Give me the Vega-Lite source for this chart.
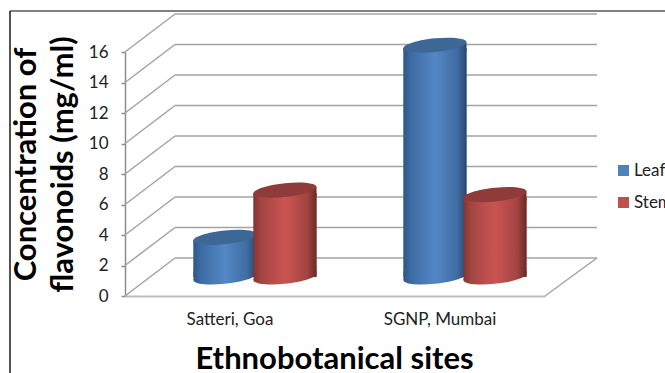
{
  "$schema": "https://vega.github.io/schema/vega-lite/v6.json",
  "width": 420,
  "height": 244,
  "autosize": "none",
  "padding": {"left": 125, "top": 52, "right": 120, "bottom": 77},
  "background": "white",
  "config": {"view": {"stroke": null}},
  "datasets": {
    "levels": [{"level": 0}, {"level": 2}, {"level": 4}, {"level": 6}, {"level": 8}, {"level": 10}, {"level": 12}, {"level": 14}, {"level": 16}],
    "flavonoids": [
      {"site": "Satteri, Goa", "part": "Leaf", "value": 2.6},
      {"site": "Satteri, Goa", "part": "Stem", "value": 5.7},
      {"site": "SGNP, Mumbai", "part": "Leaf", "value": 15.2},
      {"site": "SGNP, Mumbai", "part": "Stem", "value": 5.4}
    ]
  },
  "layer": [
    {
      "description": "Chart frame, left and top edges",
      "data": {"name": "levels"},
      "transform": [{"filter": "datum.level === 16"}],
      "layer": [
        {
          "mark": {"type": "rule", "color": "#808080", "strokeWidth": 2, "yOffset": -41, "y2Offset": -41, "xOffset": -115, "x2Offset": 435, "clip": false},
          "encoding": {
            "x": {
              "datum": "Satteri, Goa",
              "bandPosition": 0,
              "scale": {"domain": ["Satteri, Goa", "SGNP, Mumbai"], "paddingInner": 0, "paddingOuter": 0},
              "axis": {
                "title": "Ethnobotanical sites",
                "titleFont": "Lato",
                "titleFontWeight": "bold",
                "titleFontSize": 31,
                "titleColor": "#000000",
                "titleX": 209,
                "titleY": 72,
                "titleBaseline": "alphabetic",
                "labelFont": "Lato",
                "labelFontSize": 17,
                "labelColor": "#222222",
                "labelAngle": 0,
                "labelAlign": "center",
                "labelBaseline": "top",
                "labelPadding": 15,
                "ticks": false,
                "domainColor": "#BDBDBD",
                "domainWidth": 2
              }
            },
            "x2": {"datum": "Satteri, Goa"},
            "y": {
              "field": "level",
              "type": "quantitative",
              "scale": {"domain": [0, 16]},
              "axis": {
                "values": [0, 2, 4, 6, 8, 10, 12, 14, 16],
                "tickCount": 9,
                "grid": false,
                "labelOverlap": false,
                "title": ["Concentration of", "flavonoids (mg/ml)"],
                "titleFont": "Lato",
                "titleFontWeight": "bold",
                "titleFontSize": 31,
                "titleColor": "#000000",
                "titleAngle": -90,
                "titleX": -90,
                "titleY": 112,
                "titleAlign": "center",
                "titleBaseline": "alphabetic",
                "titleLineHeight": 37,
                "labelFont": "Lato",
                "labelFontSize": 17,
                "labelColor": "#222222",
                "labelPadding": 13,
                "tickSize": 4,
                "tickColor": "#8C8C8C",
                "tickWidth": 1.5,
                "domainColor": "#8C8C8C",
                "domainWidth": 1.5
              }
            },
            "y2": {"field": "level"}
          }
        },
        {
          "mark": {"type": "rule", "color": "#1a1a1a", "strokeWidth": 1.5, "xOffset": -115, "x2Offset": -220, "yOffset": -41, "y2Offset": 321},
          "encoding": {
            "x": {"datum": "Satteri, Goa", "bandPosition": 0},
            "x2": {"datum": "Satteri, Goa"},
            "y": {"field": "level", "type": "quantitative"},
            "y2": {"field": "level"}
          }
        }
      ]
    },
    {
      "description": "Side wall and back wall gridlines in oblique projection",
      "data": {"name": "levels"},
      "layer": [
        {
          "mark": {"type": "rule", "color": "#A3A3A3", "strokeWidth": 1.5, "x2Offset": -55, "y2Offset": -38},
          "encoding": {
            "x": {"datum": "Satteri, Goa", "bandPosition": 0},
            "x2": {"datum": "Satteri, Goa"},
            "y": {"field": "level", "type": "quantitative"},
            "y2": {"field": "level"}
          }
        },
        {
          "mark": {"type": "rule", "color": "#A3A3A3", "strokeWidth": 1.5, "xOffset": 50, "x2Offset": 367, "yOffset": -38, "y2Offset": -38},
          "encoding": {
            "x": {"datum": "Satteri, Goa", "bandPosition": 0},
            "x2": {"datum": "Satteri, Goa"},
            "y": {"field": "level", "type": "quantitative"},
            "y2": {"field": "level"}
          }
        },
        {
          "description": "Floor edge on the right",
          "transform": [{"filter": "datum.level === 0"}],
          "mark": {"type": "rule", "color": "#A3A3A3", "strokeWidth": 1.5, "xOffset": 420, "x2Offset": 367, "y2Offset": -38},
          "encoding": {
            "x": {"datum": "Satteri, Goa", "bandPosition": 0},
            "x2": {"datum": "Satteri, Goa"},
            "y": {"field": "level", "type": "quantitative"},
            "y2": {"field": "level"}
          }
        }
      ]
    },
    {
      "description": "Cylinders: flat base for the legend, then shaded sides and caps per series",
      "data": {"name": "flavonoids"},
      "encoding": {
        "x": {"field": "site", "type": "nominal", "sort": null},
        "xOffset": {"field": "part", "type": "nominal", "sort": null, "scale": {"paddingInner": 0, "paddingOuter": 0.75, "range": [25, 235]}},
        "y": {"field": "value", "type": "quantitative"}
      },
      "layer": [
        {
          "mark": {"type": "bar", "size": 63, "yOffset": -16, "y2Offset": -19},
          "encoding": {
            "y2": {"datum": 0},
            "color": {
              "field": "part",
              "type": "nominal",
              "sort": null,
              "scale": {"domain": ["Leaf", "Stem"], "range": ["#4F81BD", "#C0504D"]},
              "legend": {
                "title": null,
                "orient": "none",
                "legendX": 490,
                "legendY": 110,
                "symbolType": "square",
                "symbolSize": 121,
                "labelFont": "Lato",
                "labelFontSize": 17,
                "labelColor": "#222222",
                "labelOffset": 2,
                "rowPadding": 14,
                "symbolStrokeWidth": 0
              }
            }
          }
        },
        {
          "transform": [{"filter": "datum.part === 'Leaf'"}],
          "layer": [
            {
              "mark": {"type": "point", "filled": true, "size": 3969, "yOffset": -19, "opacity": 1,
                "shape": "M1,-0.1C1,0.02 0.552,0.163 0,0.218C-0.552,0.273 -1,0.22 -1,0.1C-1,-0.02 -0.552,-0.163 0,-0.218C0.552,-0.273 1,-0.22 1,-0.1Z",
                "fill": {"x1": 0, "x2": 1, "y1": 0, "y2": 0, "gradient": "linear", "stops": [{"offset": 0, "color": "#2F5687"}, {"offset": 0.12, "color": "#3D6CA3"}, {"offset": 0.5, "color": "#5387C6"}, {"offset": 0.85, "color": "#3F6DA3"}, {"offset": 1, "color": "#27486F"}]}},
              "encoding": {"y": {"datum": 0}}
            },
            {
              "mark": {"type": "point", "filled": true, "size": 3969, "yOffset": -19, "opacity": 1,
                "shape": "M-1,-0.2L1,-0.2L1,-0.1L-1,0.1Z",
                "fill": {"x1": 0, "x2": 1, "y1": 0, "y2": 0, "gradient": "linear", "stops": [{"offset": 0, "color": "#2F5687"}, {"offset": 0.12, "color": "#3D6CA3"}, {"offset": 0.5, "color": "#5387C6"}, {"offset": 0.85, "color": "#3F6DA3"}, {"offset": 1, "color": "#27486F"}]}},
              "encoding": {"y": {"datum": 0}}
            },
            {
              "mark": {"type": "bar", "size": 63, "yOffset": -16, "y2Offset": -19,
                "fill": {"x1": 0, "x2": 1, "y1": 0, "y2": 0, "gradient": "linear", "stops": [{"offset": 0, "color": "#2F5687"}, {"offset": 0.12, "color": "#3D6CA3"}, {"offset": 0.5, "color": "#5387C6"}, {"offset": 0.85, "color": "#3F6DA3"}, {"offset": 1, "color": "#27486F"}]}},
              "encoding": {"y2": {"datum": 0}}
            },
            {
              "mark": {"type": "point", "filled": true, "size": 3969, "yOffset": -19, "opacity": 1,
                "shape": "M-1,0.1L1,-0.1L1,0.2L-1,0.2Z",
                "fill": {"x1": 0, "x2": 1, "y1": 0, "y2": 0, "gradient": "linear", "stops": [{"offset": 0, "color": "#2F5687"}, {"offset": 0.12, "color": "#3D6CA3"}, {"offset": 0.5, "color": "#5387C6"}, {"offset": 0.85, "color": "#3F6DA3"}, {"offset": 1, "color": "#27486F"}]}}
            },
            {
              "mark": {"type": "point", "filled": true, "size": 3969, "yOffset": -19, "opacity": 1, "color": "#3D6794",
                "shape": "M1,-0.1C1,0.02 0.552,0.163 0,0.218C-0.552,0.273 -1,0.22 -1,0.1C-1,-0.02 -0.552,-0.163 0,-0.218C0.552,-0.273 1,-0.22 1,-0.1Z"}
            }
          ]
        },
        {
          "transform": [{"filter": "datum.part === 'Stem'"}],
          "layer": [
            {
              "mark": {"type": "point", "filled": true, "size": 3969, "yOffset": -19, "opacity": 1,
                "shape": "M1,-0.1C1,0.02 0.552,0.163 0,0.218C-0.552,0.273 -1,0.22 -1,0.1C-1,-0.02 -0.552,-0.163 0,-0.218C0.552,-0.273 1,-0.22 1,-0.1Z",
                "fill": {"x1": 0, "x2": 1, "y1": 0, "y2": 0, "gradient": "linear", "stops": [{"offset": 0, "color": "#833533"}, {"offset": 0.12, "color": "#A34543"}, {"offset": 0.5, "color": "#CB5452"}, {"offset": 0.85, "color": "#A34442"}, {"offset": 1, "color": "#6C2A28"}]}},
              "encoding": {"y": {"datum": 0}}
            },
            {
              "mark": {"type": "point", "filled": true, "size": 3969, "yOffset": -19, "opacity": 1,
                "shape": "M-1,-0.2L1,-0.2L1,-0.1L-1,0.1Z",
                "fill": {"x1": 0, "x2": 1, "y1": 0, "y2": 0, "gradient": "linear", "stops": [{"offset": 0, "color": "#833533"}, {"offset": 0.12, "color": "#A34543"}, {"offset": 0.5, "color": "#CB5452"}, {"offset": 0.85, "color": "#A34442"}, {"offset": 1, "color": "#6C2A28"}]}},
              "encoding": {"y": {"datum": 0}}
            },
            {
              "mark": {"type": "bar", "size": 63, "yOffset": -16, "y2Offset": -19,
                "fill": {"x1": 0, "x2": 1, "y1": 0, "y2": 0, "gradient": "linear", "stops": [{"offset": 0, "color": "#833533"}, {"offset": 0.12, "color": "#A34543"}, {"offset": 0.5, "color": "#CB5452"}, {"offset": 0.85, "color": "#A34442"}, {"offset": 1, "color": "#6C2A28"}]}},
              "encoding": {"y2": {"datum": 0}}
            },
            {
              "mark": {"type": "point", "filled": true, "size": 3969, "yOffset": -19, "opacity": 1,
                "shape": "M-1,0.1L1,-0.1L1,0.2L-1,0.2Z",
                "fill": {"x1": 0, "x2": 1, "y1": 0, "y2": 0, "gradient": "linear", "stops": [{"offset": 0, "color": "#833533"}, {"offset": 0.12, "color": "#A34543"}, {"offset": 0.5, "color": "#CB5452"}, {"offset": 0.85, "color": "#A34442"}, {"offset": 1, "color": "#6C2A28"}]}}
            },
            {
              "mark": {"type": "point", "filled": true, "size": 3969, "yOffset": -19, "opacity": 1, "color": "#8E3B39",
                "shape": "M1,-0.1C1,0.02 0.552,0.163 0,0.218C-0.552,0.273 -1,0.22 -1,0.1C-1,-0.02 -0.552,-0.163 0,-0.218C0.552,-0.273 1,-0.22 1,-0.1Z"}
            }
          ]
        }
      ]
    }
  ]
}
